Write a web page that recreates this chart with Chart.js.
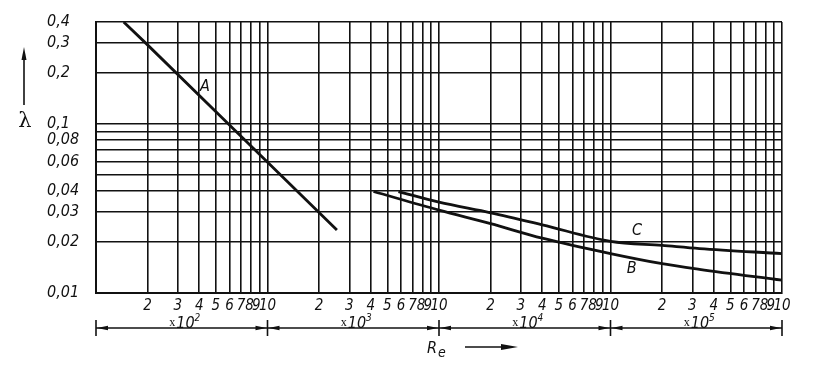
<!DOCTYPE html>
<html>
<head>
<meta charset="utf-8">
<script src="https://cdn.jsdelivr.net/npm/chart.js@4.4.1/dist/chart.umd.min.js"></script>
<style>
html,body{margin:0;padding:0;background:#fff;}
#wrap{width:817px;height:369px;}
</style>
</head>
<body>
<div id="wrap"><canvas id="mainChart" width="817" height="369"></canvas></div>
<script>
// curve A (laminar)
const reA  = [145, 195, 590, 2540];
const lamA = [0.4, 0.3, 0.1, 0.0236];
// curve B
const reB  = [4150, 10000, 20000, 40000, 100000, 200000, 330000, 1000000];
const lamB = [0.0398, 0.0309, 0.0257, 0.0211, 0.0171, 0.0149, 0.0138, 0.0119];
// curve C
const reC  = [5800, 10000, 20000, 40000, 100000, 200000, 330000, 1000000];
const lamC = [0.0398, 0.0344, 0.0298, 0.0253, 0.0202, 0.0191, 0.0183, 0.0171];

// axis ticks
const decades = [100, 1000, 10000, 100000];
const decadeExp = ['2', '3', '4', '5'];
const mantissas = [1, 2, 3, 4, 5, 6, 7, 8, 9];
const mantissaLabels = ['10', '2', '3', '4', '5', '6', '7', '8', '9'];
const yTicks = [0.01, 0.02, 0.03, 0.04, 0.05, 0.06, 0.07, 0.08, 0.09, 0.1, 0.2, 0.3, 0.4];
const yTickLabels = ['0,01', '0,02', '0,03', '0,04', '', '0,06', '', '0,08', '', '0,1', '0,2', '0,3', '0,4'];

// curve names
const curveNames = ['A', 'B', 'C'];
const nameRe  = [432, 133000, 143000];
const nameLam = [0.166, 0.0138, 0.0232];

const ink = '#111';
const sans = '"DejaVu Sans Condensed","DejaVu Sans",sans-serif';

const xTicks = [], xLabels = [];
decades.forEach(d => mantissas.forEach((m, i) => {
  xTicks.push(m * d);
  xLabels.push(m === 1 && d === decades[0] ? '' : mantissaLabels[i]);
}));
xTicks.push(1000000); xLabels.push('10');

function pts(xs, ys){ return xs.map((v, i) => ({x: v, y: ys[i]})); }

function head(ctx, tx, ty, dx, dy, len, half){
  // arrowhead with tip at (tx,ty) pointing along (dx,dy)
  const bx = tx - dx * len, by = ty - dy * len;
  ctx.beginPath();
  ctx.moveTo(tx, ty);
  ctx.lineTo(bx - dy * half, by + dx * half);
  ctx.lineTo(bx + dy * half, by - dx * half);
  ctx.closePath();
  ctx.fill();
}

const notes = {
  id: 'notes',
  afterDraw(chart){
    const {ctx, scales: {x, y}} = chart;
    ctx.save();
    ctx.strokeStyle = ink; ctx.fillStyle = ink;

    // decade brackets under the axis
    const by = 328;
    const bounds = decades.concat([1000000]).map(v => x.getPixelForValue(v));
    ctx.lineWidth = 1.6;
    ctx.beginPath(); ctx.moveTo(bounds[0], by); ctx.lineTo(bounds[bounds.length - 1], by); ctx.stroke();
    bounds.forEach(px => { ctx.beginPath(); ctx.moveTo(px, by - 8); ctx.lineTo(px, by + 8); ctx.stroke(); });
    for(let i = 0; i < decades.length; i++){
      head(ctx, bounds[i] + 1, by, -1, 0, 11, 2.2);
      head(ctx, bounds[i + 1] - 1, by, 1, 0, 11, 2.2);
      // x10^n label
      const cx = (bounds[i] + bounds[i + 1]) / 2 + 3;
      ctx.font = '12px "Liberation Serif",serif';
      const wx = ctx.measureText('x').width + 1;
      ctx.font = 'italic 16px ' + sans;
      const w10 = ctx.measureText('10').width;
      ctx.font = 'italic 10px ' + sans;
      const we = ctx.measureText(decadeExp[i]).width;
      let sx = cx - (wx + w10 + we) / 2;
      ctx.textAlign = 'left'; ctx.textBaseline = 'alphabetic';
      ctx.font = '12px "Liberation Serif",serif';
      ctx.fillText('x', sx, 326); sx += wx;
      ctx.font = 'italic 16px ' + sans;
      ctx.fillText('10', sx, 328); sx += w10;
      ctx.font = 'italic 10px ' + sans;
      ctx.fillText(decadeExp[i], sx, 321);
    }

    // R_e with arrow
    const mid = (x.left + x.right) / 2;
    ctx.font = 'italic 16px ' + sans;
    ctx.fillText('R', mid - 12, 353);
    ctx.font = 'italic 14px ' + sans;
    ctx.fillText('e', mid - 1, 357);
    ctx.lineWidth = 1.6;
    ctx.beginPath(); ctx.moveTo(mid + 26, 347); ctx.lineTo(mid + 68, 347); ctx.stroke();
    head(ctx, mid + 79, 347, 1, 0, 17, 3);

    // lambda with arrow
    ctx.font = '21px "DejaVu Serif",serif';
    ctx.textAlign = 'center'; ctx.textBaseline = 'middle';
    ctx.fillText('\u03bb', 25, 122);
    ctx.beginPath(); ctx.moveTo(24, 105); ctx.lineTo(24, 58); ctx.stroke();
    head(ctx, 24, 47, 0, -1, 13, 2.5);

    // curve names
    ctx.font = 'italic 16px ' + sans;
    curveNames.forEach((t, i) => {
      ctx.fillText(t, x.getPixelForValue(nameRe[i]), y.getPixelForValue(nameLam[i]));
    });
    ctx.restore();
  }
};

const line = {borderColor: ink, borderWidth: 2.8, pointRadius: 0, fill: false};

new Chart(document.getElementById('mainChart'), {
  type: 'line',
  data: {
    datasets: [
      Object.assign({label: 'A', data: pts(reA, lamA), tension: 0}, line),
      Object.assign({label: 'B', data: pts(reB, lamB), cubicInterpolationMode: 'monotone'}, line),
      Object.assign({label: 'C', data: pts(reC, lamC), cubicInterpolationMode: 'monotone'}, line)
    ]
  },
  options: {
    responsive: false,
    animation: false,
    devicePixelRatio: 1,
    layout: {padding: {left: 47, right: 35, top: 22, bottom: 0}},
    plugins: {legend: {display: false}, tooltip: {enabled: false}},
    scales: {
      x: {
        type: 'logarithmic', min: 100, max: 1000000,
        afterBuildTicks: s => { s.ticks = xTicks.map(v => ({value: v})); },
        afterFit: s => { s.height = 76; },
        grid: {color: ink, lineWidth: 1.6, drawTicks: false},
        border: {color: ink, width: 2},
        ticks: {
          autoSkip: false, maxRotation: 0, minRotation: 0, padding: 4, color: ink,
          font: {family: sans, size: 15, style: 'italic'},
          callback: (v, i) => {
            const t = xLabels[i];
            if(t === '9') return t + '\u2002';
            if(t === '8') return t + '\u2009';
            return t;
          }
        }
      },
      y: {
        type: 'logarithmic', min: 0.01, max: 0.4,
        afterBuildTicks: s => { s.ticks = yTicks.map(v => ({value: v})); },
        afterFit: s => { s.width = 49; },
        grid: {color: ink, lineWidth: 1.6, drawTicks: false},
        border: {color: ink, width: 2},
        ticks: {
          crossAlign: 'far', padding: 8, color: ink,
          font: {family: sans, size: 16, style: 'italic'},
          callback: (v, i) => yTickLabels[i]
        }
      }
    }
  },
  plugins: [notes]
});
</script>
</body>
</html>
